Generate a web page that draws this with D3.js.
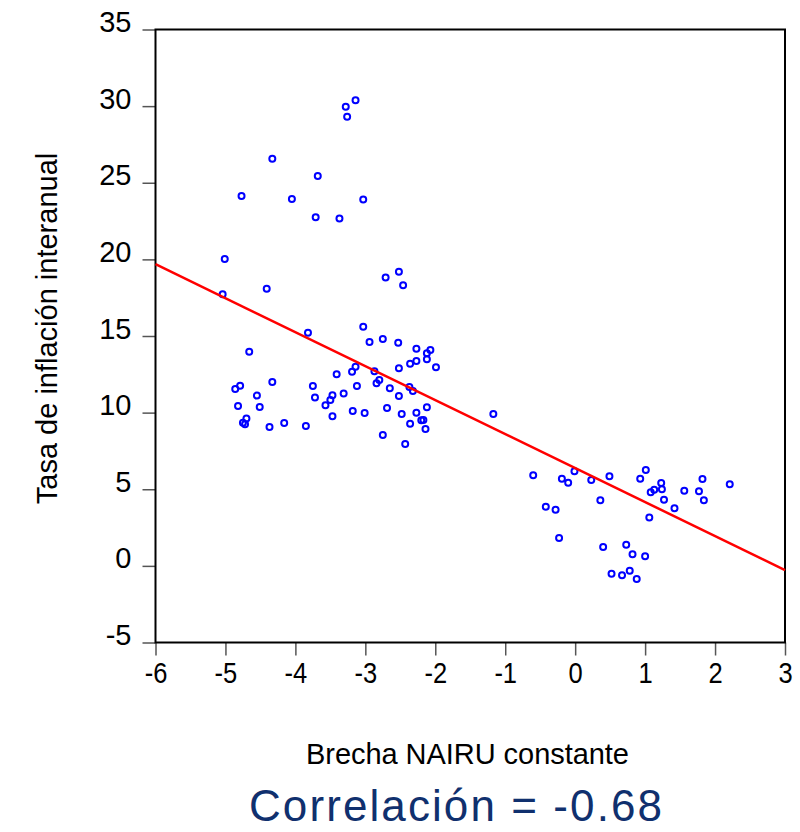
<!DOCTYPE html>
<html>
<head>
<meta charset="utf-8">
<script src="https://cdn.jsdelivr.net/npm/d3@7"></script>
<style>
  body { margin: 0; background: #fff; }
  text { font-family: 'Liberation Sans', Arial, sans-serif; }
</style>
</head>
<body>
<div id="vis"></div>
<script>
// brecha NAIRU (eje x) e inflación interanual (eje y)
const gap = [
  -3.14, -3.28, -3.26, -4.33, -3.68, -4.77, -4.05, -3.03, -3.71, -3.37,
  -5.01, -5.04, -4.41, -2.71, -2.52, -2.46,
  -3.03, -3.82, -2.75, -2.94, -2.53, -2.27, -2.07, -2.12, -4.66, -2.12,
  -2.27, -2.36, -1.99, -3.14, -3.19, -2.52, -2.87, -3.41, -2.80, -2.84,
  -4.33, -4.79, -4.86, -3.75, -3.12, -2.65, -2.37, -2.32, -2.52, -3.31,
  -3.47, -4.55, -3.72, -3.50, -3.57, -4.82, -4.51, -2.12, -2.69, -3.18,
  -3.01, -2.27, -2.48, -3.47, -4.70, -4.75, -4.72, -2.20, -2.17, -2.36,
  -4.16, -4.37, -3.85, -2.14, -2.75, -2.43,
  -1.17, -0.60, -0.19, -0.10, -0.01, 0.23, 0.49, 0.36, 1.01, 0.93,
  1.23, 1.24, 1.13, 1.08, 1.27, 1.06, 1.42, 1.56, 1.82, 1.77,
  1.84, 2.21, -0.42, -0.28, -0.23, 0.40, 0.73, 0.82, 1.00, 0.52,
  0.67, 0.78, 0.88
]
const inflation = [
  30.38, 29.96, 29.31, 26.57, 25.44, 24.14, 23.94, 23.90, 22.75, 22.66,
  20.03, 17.72, 18.09, 18.81, 19.20, 18.31,
  15.61, 15.22, 14.81, 14.61, 14.56, 14.17, 14.09, 13.87, 13.98, 13.48,
  13.37, 13.19, 12.96, 13.00, 12.67, 12.89, 12.70, 12.50, 12.13, 11.92,
  12.00, 11.76, 11.54, 11.74, 11.74, 11.59, 11.67, 11.41, 11.09, 11.24,
  11.13, 11.11, 10.98, 10.83, 10.48, 10.43, 10.37, 10.35, 10.30, 10.11,
  9.98, 10.00, 9.91, 9.76, 9.61, 9.34, 9.24, 9.50, 9.52, 9.28,
  9.32, 9.06, 9.13, 8.93, 8.54, 7.95,
  9.91, 5.91, 5.69, 5.43, 6.17, 5.61, 5.85, 4.28, 6.26, 5.69,
  5.41, 5.00, 4.97, 4.80, 4.32, 3.15, 3.76, 4.91, 5.67, 4.87,
  4.28, 5.32, 3.86, 3.67, 1.82, 1.23, 1.38, 0.76, 0.63, -0.51,
  -0.61, -0.31, -0.85
]

const xTicks = [-6, -5, -4, -3, -2, -1, 0, 1, 2, 3]
const yTicks = [-5, 0, 5, 10, 15, 20, 25, 30, 35]

// recta de regresión (ordenada y pendiente)
const fitIntercept = 6.38
const fitSlope = -2.217

const correlation = -0.68

const width = 800,
  height = 832

const svg = d3
  .select('#vis')
  .append('svg')
  .attr('width', width)
  .attr('height', height)

const x = d3.scaleLinear().domain([-6, 3]).range([155.5, 785])
const y = d3.scaleLinear().domain([-5, 35]).range([642.5, 29.5])

// plain hyphen for negatives, like the original
const plain = (d) => String(d)

// y axis
const yAxis = svg
  .append('g')
  .attr('transform', 'translate(' + x.range()[0] + ',0)')
  .call(d3.axisLeft(y).tickValues(yTicks).tickFormat(plain).tickSize(13).tickPadding(11))
yAxis.select('.domain').remove()
yAxis.selectAll('.tick line').attr('stroke', '#555').attr('stroke-width', 1.5)
yAxis
  .selectAll('.tick text')
  .attr('dy', 2)
  .attr('fill', '#000')
  .style('font-size', '29px')

// x axis
const xAxis = svg
  .append('g')
  .attr('transform', 'translate(0,' + y.range()[0] + ')')
  .call(d3.axisBottom(x).tickValues(xTicks).tickFormat(plain).tickSize(13).tickPadding(7))
xAxis.select('.domain').remove()
xAxis.selectAll('.tick line').attr('stroke', '#555').attr('stroke-width', 1.5)
xAxis
  .selectAll('.tick text')
  .attr('fill', '#000')
  .attr('transform', 'scale(0.88,1)')
  .style('font-size', '29px')

// frame
svg
  .append('rect')
  .attr('x', x.range()[0])
  .attr('y', y.range()[1])
  .attr('width', x.range()[1] - x.range()[0])
  .attr('height', y.range()[0] - y.range()[1])
  .attr('fill', 'none')
  .attr('stroke', '#000')
  .attr('stroke-width', 2)

// points
const points = gap.map((g, i) => ({ gap: g, inflation: inflation[i] }))

svg
  .append('g')
  .selectAll('circle')
  .data(points)
  .enter()
  .append('circle')
  .attr('cx', (d) => x(d.gap))
  .attr('cy', (d) => y(d.inflation))
  .attr('r', 3)
  .attr('fill', 'none')
  .attr('stroke', '#0000ff')
  .attr('stroke-width', 2)

// regression line
const fitLine = x.domain().map((v) => ({ gap: v, inflation: fitIntercept + fitSlope * v }))

svg
  .append('path')
  .datum(fitLine)
  .attr('fill', 'none')
  .attr('stroke', '#ff0000')
  .attr('stroke-width', 2.5)
  .attr(
    'd',
    d3
      .line()
      .x((d) => x(d.gap))
      .y((d) => y(d.inflation))
  )

// labels
svg
  .append('text')
  .attr('transform', 'translate(57,328.5)rotate(-90)')
  .attr('text-anchor', 'middle')
  .style('font-size', '29px')
  .text('Tasa de inflación interanual')

svg
  .append('text')
  .attr('x', 306)
  .attr('y', 764)
  .attr('textLength', 323)
  .attr('lengthAdjust', 'spacing')
  .style('font-size', '29px')
  .text('Brecha NAIRU constante')

svg
  .append('text')
  .attr('x', 249)
  .attr('y', 821)
  .attr('textLength', 413)
  .attr('lengthAdjust', 'spacing')
  .attr('fill', '#10306e')
  .style('font-size', '44px')
  .text('Correlación = ' + correlation.toFixed(2))
</script>
</body>
</html>
